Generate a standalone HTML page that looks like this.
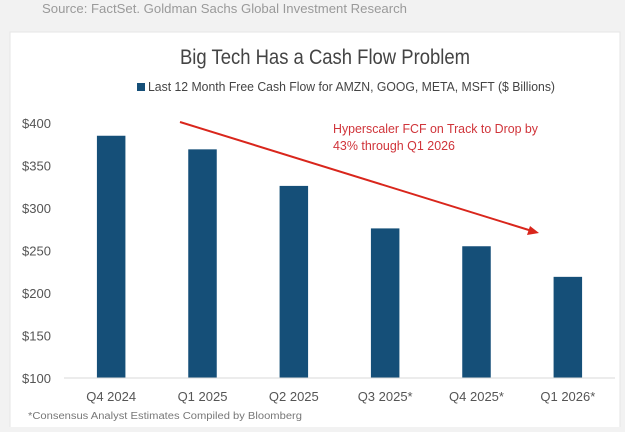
<!DOCTYPE html>
<html><head><meta charset="utf-8"><style>
body{margin:0;background:#f2f2f2;font-family:"Liberation Sans",sans-serif;}
svg text{font-family:"Liberation Sans",sans-serif;}
</style></head><body>
<svg width="625" height="427" viewBox="0 0 625 427" xmlns="http://www.w3.org/2000/svg">
<text x="42" y="13" font-size="13" fill="#9a9a9a" textLength="365" lengthAdjust="spacingAndGlyphs">Source: FactSet. Goldman Sachs Global Investment Research</text>
<rect x="10" y="32" width="610" height="400" fill="#fff" stroke="#e6e6e6"/>
<text x="180" y="64" font-size="21" fill="#444" textLength="290" lengthAdjust="spacingAndGlyphs">Big Tech Has a Cash Flow Problem</text>
<rect x="137" y="83" width="8" height="8" fill="#154f78"/>
<text x="148" y="91" font-size="13" fill="#444" textLength="407" lengthAdjust="spacingAndGlyphs">Last 12 Month Free Cash Flow for AMZN, GOOG, META, MSFT ($ Billions)</text>
<g id="yaxis"></g><g id="bars"></g><g id="xaxis"></g>
<line x1="64" y1="378" x2="615" y2="378" stroke="#d9d9d9"/>
<line x1="180" y1="122" x2="532" y2="231" stroke="#d9261c" stroke-width="2"/>
<polygon points="539,233 527,235 530,226" fill="#d9261c"/>
<text x="333" y="133" font-size="13" fill="#d0343a" textLength="205" lengthAdjust="spacingAndGlyphs">Hyperscaler FCF on Track to Drop by</text>
<text x="333" y="150" font-size="13" fill="#d0343a" textLength="122" lengthAdjust="spacingAndGlyphs">43% through Q1 2026</text>
<text x="28" y="419" font-size="10" fill="#777" textLength="274" lengthAdjust="spacingAndGlyphs">*Consensus Analyst Estimates Compiled by Bloomberg</text>
</svg>
<script>
const categories=["Q4 2024","Q1 2025","Q2 2025","Q3 2025*","Q4 2025*","Q1 2026*"];
const values=[385,369,326,276,255,219];
const yTicks=[100,150,200,250,300,350,400];
const tickLabels=["$100","$150","$200","$250","$300","$350","$400"];
const NS="http://www.w3.org/2000/svg";
const x0=65.5,x1=613.5,yMin=100,yMax=400,py0=378,py1=123;
const y=v=>py0-(v-yMin)/(yMax-yMin)*(py0-py1);
const step=(x1-x0)/categories.length;
const cx=i=>x0+step*(i+0.5);
const ya=document.getElementById('yaxis'),bg=document.getElementById('bars'),xa=document.getElementById('xaxis');
yTicks.forEach((t,i)=>{const e=document.createElementNS(NS,'text');
e.setAttribute('x',22);e.setAttribute('y',y(t)+5);e.setAttribute('font-size','13');e.setAttribute('fill','#555');
e.textContent=tickLabels[i];


ya.appendChild(e);});
values.forEach((v,i)=>{const r=document.createElementNS(NS,'rect');
r.setAttribute('x',cx(i)-14.25);r.setAttribute('width',28.5);r.setAttribute('y',y(v));r.setAttribute('height',py0-y(v));r.setAttribute('fill','#154f78');


bg.appendChild(r);
const t=document.createElementNS(NS,'text');
t.setAttribute('x',cx(i));t.setAttribute('y',401);t.setAttribute('font-size','13');t.setAttribute('fill','#555');t.setAttribute('text-anchor','middle');
t.textContent=categories[i];


xa.appendChild(t);});
</script>
</body></html>
